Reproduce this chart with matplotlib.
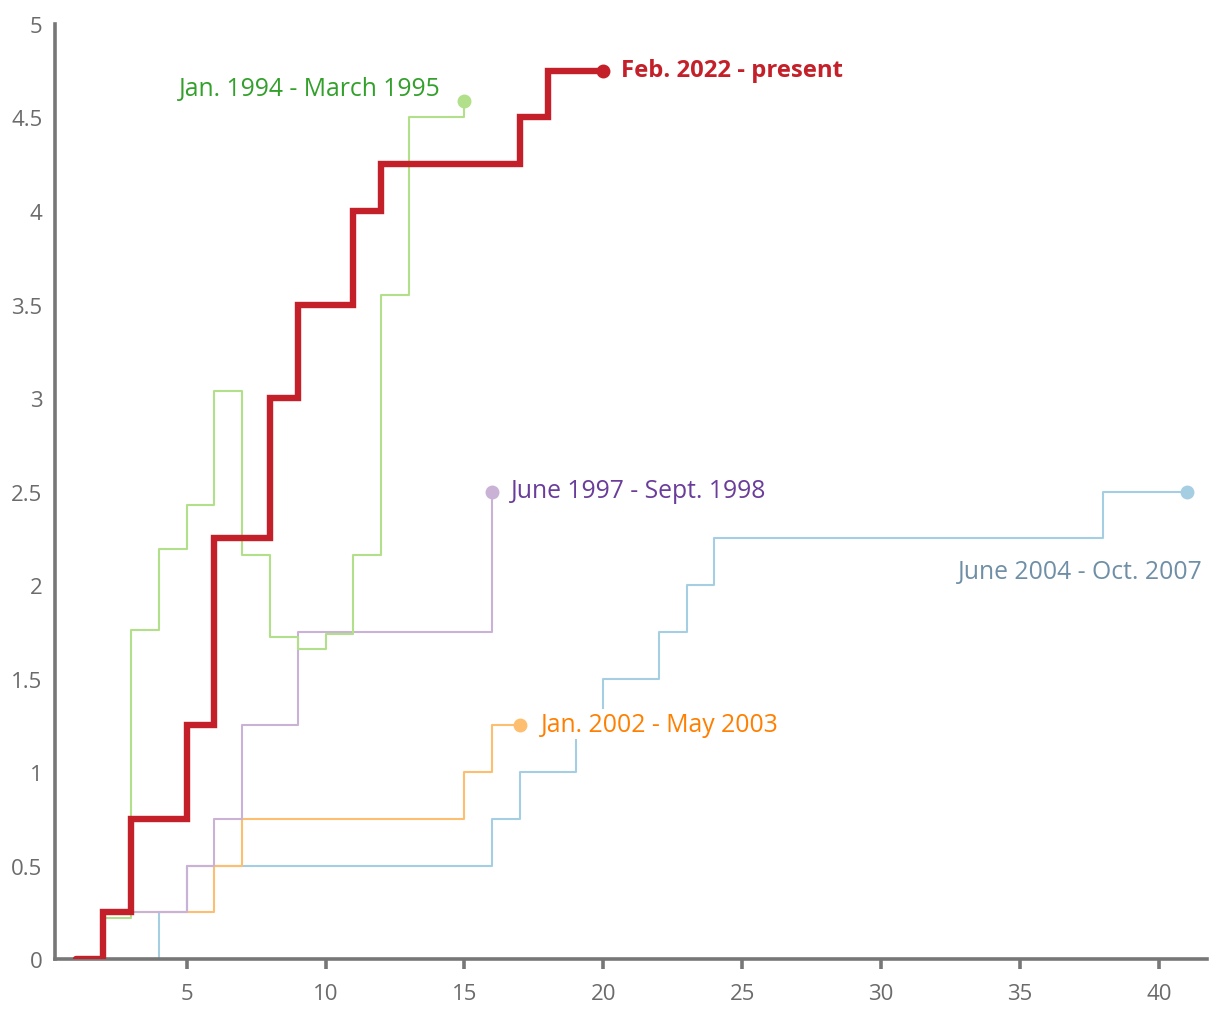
import matplotlib
matplotlib.use("Agg")
import matplotlib.pyplot as plt

plt.rcParams['font.family'] = ['Open Sans', 'DejaVu Sans']

# ---- data (months since start of cycle, cumulative rate hikes, pct points) ----
green_x = list(range(1, 16))
green_y = [0, 0.22, 1.76, 2.19, 2.43, 3.04, 2.16, 1.72, 1.66, 1.74, 2.16, 3.55, 4.5, 4.5, 4.59]

purple_x = list(range(1, 17))
purple_y = [0, 0.25, 0.25, 0.25, 0.5, 0.75, 1.25, 1.25, 1.75, 1.75, 1.75, 1.75, 1.75, 1.75, 1.75, 2.5]

orange_x = list(range(1, 18))
orange_y = [0, 0.25, 0.25, 0.25, 0.25, 0.5, 0.75, 0.75, 0.75, 0.75, 0.75, 0.75, 0.75, 0.75, 1.0, 1.25, 1.25]

blue_x = list(range(1, 42))
blue_y = [0, 0, 0, 0.25, 0.5, 0.5, 0.5, 0.5, 0.5, 0.5, 0.5, 0.5, 0.5, 0.5, 0.5,
          0.75, 1.0, 1.0, 1.25, 1.5, 1.5, 1.75, 2.0,
          2.25, 2.25, 2.25, 2.25, 2.25, 2.25, 2.25, 2.25, 2.25, 2.25, 2.25, 2.25, 2.25, 2.25,
          2.5, 2.5, 2.5, 2.5]

red_x = list(range(1, 21))
red_y = [0, 0.25, 0.75, 0.75, 1.25, 2.25, 2.25, 3.0, 3.5, 3.5, 4.0, 4.25, 4.25, 4.25, 4.25,
         4.25, 4.5, 4.75, 4.75, 4.75]

labels = {
    'green': "Jan. 1994 - March 1995",
    'purple': "June 1997 - Sept. 1998",
    'orange': "Jan. 2002 - May 2003",
    'blue': "June 2004 - Oct. 2007",
    'red': "Feb. 2022 - present",
}

x_ticks = [5, 10, 15, 20, 25, 30, 35, 40]
y_ticks = [0, 0.5, 1, 1.5, 2, 2.5, 3, 3.5, 4, 4.5, 5]
y_ticklabels = ['0', '0.5', '1', '1.5', '2', '2.5', '3', '3.5', '4', '4.5', '5']

# ---- figure ----
fig = plt.figure(figsize=(12.2, 10.2), dpi=100)
ax = fig.add_axes([0.0451, 0.0588, 0.9442, 0.9167])

series = [
    (blue_x, blue_y, '#a6cee3', '#6f8fa7', labels['blue'], (16, -80), 'right', False),
    (orange_x, orange_y, '#fdbf6f', '#ff7f00', labels['orange'], (21, 1), 'left', True),
    (purple_x, purple_y, '#cab2d6', '#6a3d9a', labels['purple'], (19, 1), 'left', False),
    (green_x, green_y, '#b2df8a', '#33a02c', labels['green'], (-24, 12), 'right', False),
]

for xs, ys, lc, tc, lab, off, ha, box in series:
    ax.plot(xs, ys, drawstyle='steps-post', color=lc, lw=1.5, zorder=2)
    ax.plot(xs[-1], ys[-1], 'o', color=lc, ms=9, zorder=2)
    kw = {}
    if box:
        kw['bbox'] = dict(boxstyle='square,pad=0.1', fc='white', ec='none')
    ax.annotate(lab, xy=(xs[-1], ys[-1]), xytext=off, textcoords='offset pixels',
                ha=ha, va='center', color=tc, fontsize=17.8, zorder=4, **kw)

red = '#c4202a'
ax.plot(red_x, red_y, drawstyle='steps-post', color=red, lw=4.6, zorder=5,
        solid_joinstyle='miter', solid_capstyle='round')
ax.plot(red_x[-1], red_y[-1], 'o', color=red, ms=9, zorder=5)
ax.annotate(labels['red'], xy=(red_x[-1], red_y[-1]), xytext=(18, 1),
            textcoords='offset pixels', ha='left', va='center', color=red,
            fontsize=17.2, fontweight='bold', zorder=6)

ax.set_xlim(0.26, 41.73)
ax.set_ylim(0, 5)
ax.set_xticks(x_ticks)
ax.set_yticks(y_ticks)
ax.set_yticklabels(y_ticklabels)

for s in ['top', 'right']:
    ax.spines[s].set_visible(False)
for s in ['left', 'bottom']:
    ax.spines[s].set_color('#777777')
    ax.spines[s].set_linewidth(2.6)
    ax.spines[s].set_zorder(3)

ax.tick_params(axis='x', length=7, width=2.6, color='#777777', labelcolor='#6b6b6b',
               labelsize=16, pad=10)
ax.tick_params(axis='y', length=0, labelcolor='#6b6b6b', labelsize=16, pad=9)

fig.savefig('out.png', dpi=100, facecolor='white')
